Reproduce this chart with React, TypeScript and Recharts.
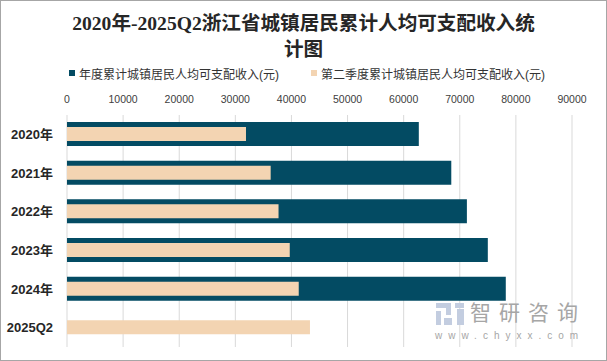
import React from 'react';
import { BarChart, Bar, XAxis, YAxis, CartesianGrid } from 'recharts';

// values (元)
const categories = ['2020年', '2021年', '2022年', '2023年', '2024年', '2025Q2'];
const annualIncome = [62699, 68487, 71268, 74997, 78200, null];
const q2Income = [31900, 36300, 37700, 39700, 41300, 43300];
const xTicks = [0, 10000, 20000, 30000, 40000, 50000, 60000, 70000, 80000, 90000];

const titleLines = ['2020年-2025Q2浙江省城镇居民累计人均可支配收入统', '计图'];
const seriesNames = ['年度累计城镇居民人均可支配收入(元)', '第二季度累计城镇居民人均可支配收入(元)'];

const DARK = '#034B63';
const LIGHT = '#F3D4B2';
const SANS = "'Liberation Sans', 'Noto Sans CJK SC', sans-serif";

const data = categories.map((name, i) => ({
  name,
  annual: annualIncome[i],
  q2: q2Income[i],
}));

// little watermark logo, just blocks
const logoBlocks = [
  { l: 436, t: 303, w: 15, h: 5 },
  { l: 446, t: 303, w: 5, h: 12 },
  { l: 436, t: 311, w: 5, h: 14 },
  { l: 444, t: 318, w: 8, h: 7 },
  { l: 455, t: 303, w: 9, h: 5 },
  { l: 457, t: 309, w: 7, h: 16 },
];

export default function App() {
  return (
    <div
      style={{
        position: 'absolute',
        left: 0,
        top: 0,
        width: 607,
        height: 361,
        background: '#fff',
        fontFamily: SANS,
      }}
    >
      <BarChart
        width={607}
        height={361}
        data={data}
        layout="vertical"
        margin={{ top: 85, right: 35, bottom: 14, left: 0 }}
      >
        <CartesianGrid horizontal={false} stroke="#d9d9d9" />
        <XAxis
          type="number"
          orientation="top"
          domain={[0, 90000]}
          ticks={xTicks}
          height={30}
          axisLine={false}
          tickLine={false}
          tickSize={0}
          tickMargin={12}
          tick={{ fill: '#404040', fontSize: 10.5, fontFamily: SANS }}
        />
        <YAxis
          yAxisId="a"
          type="category"
          dataKey="name"
          width={67}
          axisLine={false}
          tickLine={false}
          tickSize={0}
          tickMargin={14}
          tick={{ fill: '#262626', fontSize: 13, fontWeight: 'bold', fontFamily: SANS }}
        />
        <YAxis yAxisId="b" type="category" dataKey="name" hide />
        <Bar yAxisId="a" dataKey="annual" fill={DARK} barSize={24} isAnimationActive={false} />
        <Bar yAxisId="b" dataKey="q2" fill={LIGHT} barSize={14} isAnimationActive={false} />
      </BarChart>

      {/* title */}
      <div
        style={{
          position: 'absolute',
          left: 0,
          top: 11,
          width: 607,
          textAlign: 'center',
          fontFamily: "'Liberation Serif', 'Noto Sans CJK SC', serif",
          fontWeight: 'bold',
          fontSize: 19.6,
          lineHeight: '26px',
          color: '#262626',
        }}
      >
        {titleLines.map((t) => (
          <div key={t}>{t}</div>
        ))}
      </div>

      {/* legend */}
      {seriesNames.map((s, i) => (
        <div
          key={s}
          style={{
            position: 'absolute',
            left: i === 0 ? 69 : 311,
            top: 65,
            height: 16,
            display: 'flex',
            alignItems: 'center',
            fontSize: 12,
            color: '#333',
            whiteSpace: 'nowrap',
          }}
        >
          <span
            style={{
              display: 'inline-block',
              width: 6,
              height: 6,
              marginRight: 4,
              background: i === 0 ? DARK : LIGHT,
            }}
          />
          {s}
        </div>
      ))}

      {/* watermark */}
      {logoBlocks.map((b, i) => (
        <div
          key={i}
          style={{
            position: 'absolute',
            left: b.l,
            top: b.t,
            width: b.w,
            height: b.h,
            background: '#c3cde0',
          }}
        />
      ))}
      <div
        style={{
          position: 'absolute',
          left: 470,
          top: 301,
          fontSize: 21,
          letterSpacing: 8,
          color: '#a6a6a6',
          whiteSpace: 'nowrap',
          lineHeight: '24px',
        }}
      >
        智研咨询
      </div>
      <div
        style={{
          position: 'absolute',
          left: 435,
          top: 329,
          fontSize: 10,
          letterSpacing: 6,
          color: '#a6a6a6',
          whiteSpace: 'nowrap',
          lineHeight: '14px',
        }}
      >
        www.chyxx.com
      </div>

      {/* frame */}
      <div
        style={{
          position: 'absolute',
          left: 0,
          top: 0,
          width: 607,
          height: 361,
          boxSizing: 'border-box',
          border: '1px solid #a6a6a6',
          pointerEvents: 'none',
        }}
      />
    </div>
  );
}
